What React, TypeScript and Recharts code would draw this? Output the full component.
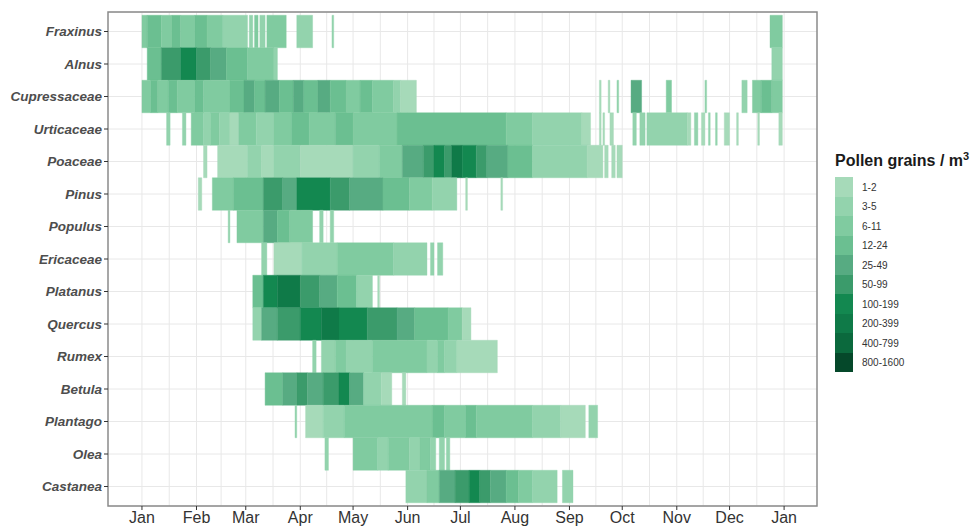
import { ComposedChart, XAxis, YAxis, ReferenceArea, CartesianGrid } from "recharts";

// taxa, top to bottom
const taxa = [
  "Fraxinus", "Alnus", "Cupressaceae", "Urticaceae", "Poaceae",
  "Pinus", "Populus", "Ericaceae", "Platanus", "Quercus",
  "Rumex", "Betula", "Plantago", "Olea", "Castanea",
];

// concentration classes (legend)
const levelLabels = ["1-2", "3-5", "6-11", "12-24", "25-49", "50-99", "100-199", "200-399", "400-799", "800-1600"];
const levelColors = ["#a6dab9", "#93d3ad", "#80cba0", "#6bbf91", "#57ab82", "#3b9b6b", "#138850", "#0f7a48", "#0b693d", "#05482a"];

// month ticks (day of year)
const monthDays = [0, 31, 59, 90, 120, 151, 181, 212, 243, 273, 304, 334, 365];
const monthLabels = ["Jan", "Feb", "Mar", "Apr", "May", "Jun", "Jul", "Aug", "Sep", "Oct", "Nov", "Dec", "Jan"];

// pollen periods per taxon: [start day, end day, class]
const fraxinus = [[0, 3, 2], [3, 11, 3], [11, 17, 2], [17, 22, 3], [22, 30, 2], [30, 37, 3], [37, 46, 2], [46, 60, 1], [61, 63, 1], [64, 66, 2], [67, 70, 1], [71, 82, 2], [88, 97, 1], [108, 109, 1], [357, 364, 2]];
const alnus = [[3, 11, 3], [11, 22, 5], [22, 31, 6], [31, 39, 5], [39, 48, 4], [48, 60, 3], [60, 75, 2], [75, 77, 1], [358, 364, 1]];
const cupressaceae = [[0, 5, 2], [5, 9, 3], [9, 15, 2], [15, 20, 3], [20, 30, 2], [30, 35, 3], [35, 50, 2], [50, 58, 3], [58, 64, 4], [64, 70, 3], [70, 78, 4], [78, 86, 3], [86, 92, 4], [92, 100, 3], [100, 107, 4], [107, 116, 3], [116, 124, 2], [124, 131, 3], [131, 143, 2], [143, 147, 1], [147, 156, 0], [260, 261, 0], [265, 266, 0], [270, 271, 1], [278, 284, 4], [298, 301, 2], [320, 321, 1], [341, 344, 1], [347, 352, 2], [352, 358, 3], [358, 364, 2]];
const urticaceae = [[14, 16, 1], [23, 25, 1], [28, 35, 2], [35, 39, 1], [39, 44, 2], [44, 50, 1], [50, 55, 0], [55, 65, 2], [65, 75, 1], [75, 85, 2], [85, 95, 3], [95, 110, 2], [110, 120, 3], [120, 145, 2], [145, 207, 3], [207, 222, 2], [222, 250, 1], [250, 255, 0], [260, 261, 0], [262, 263, 0], [266, 268, 0], [279, 281, 1], [283, 286, 1], [287, 310, 1], [310, 312, 0], [314, 316, 1], [318, 320, 0], [322, 323, 1], [326, 327, 1], [331, 334, 0], [338, 339, 0], [350, 351, 0], [362, 364, 0]];
const poaceae = [[35, 37, 0], [43, 60, 0], [60, 68, 1], [68, 75, 0], [75, 90, 1], [90, 120, 0], [120, 135, 1], [135, 148, 2], [148, 160, 4], [160, 166, 5], [166, 172, 6], [172, 176, 5], [176, 182, 7], [182, 190, 6], [190, 196, 5], [196, 208, 4], [208, 222, 3], [222, 253, 1], [253, 262, 0], [263, 265, 0], [267, 269, 0], [270, 273, 0]];
const pinus = [[32, 34, 0], [40, 52, 2], [52, 69, 3], [69, 80, 5], [80, 88, 4], [88, 107, 6], [107, 118, 5], [118, 137, 4], [137, 152, 3], [152, 165, 2], [165, 179, 1], [184, 185, 0], [204, 205, 0]];
const populus = [[49, 50, 1], [54, 69, 2], [69, 77, 4], [77, 84, 3], [84, 97, 2], [101, 103, 1], [107, 109, 1]];
const ericaceae = [[68, 71, 1], [75, 91, 0], [91, 111, 1], [111, 143, 2], [143, 162, 1], [164, 166, 1], [168, 171, 1]];
const platanus = [[63, 69, 3], [69, 77, 6], [77, 90, 7], [90, 101, 5], [101, 111, 4], [111, 122, 3], [122, 131, 1], [134, 135, 0]];
const quercus = [[63, 68, 1], [68, 77, 4], [77, 90, 5], [90, 102, 6], [102, 112, 7], [112, 128, 6], [128, 145, 5], [145, 155, 4], [155, 174, 3], [174, 182, 2], [182, 187, 0]];
const rumex = [[97, 99, 1], [102, 110, 1], [110, 116, 2], [116, 131, 1], [131, 162, 2], [162, 168, 1], [168, 172, 2], [172, 179, 1], [179, 202, 0]];
const betula = [[70, 80, 3], [80, 88, 4], [88, 94, 5], [94, 103, 4], [103, 112, 5], [112, 118, 6], [118, 126, 4], [126, 136, 1], [136, 142, 0], [148, 150, 0]];
const plantago = [[87, 88, 1], [93, 103, 0], [103, 115, 1], [115, 165, 2], [165, 172, 3], [172, 184, 2], [184, 190, 3], [190, 222, 2], [222, 238, 1], [238, 252, 0], [254, 259, 1]];
const olea = [[104, 106, 1], [120, 134, 2], [134, 140, 1], [140, 152, 2], [152, 158, 1], [158, 164, 2], [164, 167, 1], [169, 172, 1], [173, 175, 1]];
const castanea = [[150, 162, 1], [162, 169, 2], [169, 178, 4], [178, 186, 5], [186, 192, 6], [192, 198, 5], [198, 207, 4], [207, 214, 3], [214, 222, 2], [222, 236, 1], [239, 245, 1]];

const rows = [fraxinus, alnus, cupressaceae, urticaceae, poaceae, pinus, populus, ericaceae, platanus, quercus, rumex, betula, plantago, olea, castanea];

const X_DOMAIN = [-19.3, 383.7];
const Y_DOMAIN = [-0.6, 14.6];
const FONT = "'Liberation Sans', Arial, sans-serif";

const tiles = rows.flatMap((segs, row) =>
  segs.map(([start, end, level]) => ({ row, start, end, level }))
);

// grid: month starts plus halfway lines
const gridDays = monthDays.flatMap((d, i) => (i === 0 ? [d] : [(d + monthDays[i - 1]) / 2, d]));

// vertical grid positions from the x axis scale (falls back to the plot offset)
const verticalGrid = ({ xAxis, offset }: any) => {
  const s = xAxis && xAxis.scale;
  if (typeof s === "function") return gridDays.map((d) => s(d));
  if (s && typeof s.map === "function") return gridDays.map((d) => s.map(d));
  const span = X_DOMAIN[1] - X_DOMAIN[0];
  return gridDays.map((d) => offset.left + ((d - X_DOMAIN[0]) / span) * offset.width);
};

const PollenLegend = () => (
  <div style={{ position: "absolute", left: 835, top: 147, fontFamily: FONT }}>
    <div style={{ fontSize: 16, lineHeight: "18px", fontWeight: 700, color: "#1a1a1a", marginBottom: 7, whiteSpace: "nowrap" }}>
      Pollen grains / m<sup style={{ fontSize: 11 }}>3</sup>
    </div>
    {levelLabels.map((label, i) => (
      <div key={label} style={{ display: "flex", alignItems: "center", height: 19.5 }}>
        <span style={{ width: 18, height: 19.5, background: levelColors[i], display: "inline-block" }} />
        <span style={{ fontSize: 10, color: "#333", marginLeft: 9 }}>{label}</span>
      </div>
    ))}
  </div>
);

export default function App() {
  return (
    <div style={{ position: "absolute", left: 0, top: 0, width: 978, height: 529, background: "#fff" }}>
      <ComposedChart width={978} height={529} margin={{ top: 12, right: 161, bottom: 0, left: 0 }}>
        <CartesianGrid stroke="#e8e8e8" strokeWidth={1} verticalCoordinatesGenerator={verticalGrid} />
        <XAxis
          type="number"
          dataKey="x"
          domain={X_DOMAIN}
          allowDataOverflow
          ticks={monthDays}
          interval={0}
          tickFormatter={(v) => monthLabels[monthDays.indexOf(v)]}
          height={23}
          axisLine={false}
          tickSize={4}
          tickLine={{ stroke: "#333" }}
          tick={{ fontSize: 16, fill: "#333", fontFamily: FONT }}
        />
        <YAxis
          type="number"
          dataKey="y"
          domain={Y_DOMAIN}
          allowDataOverflow
          reversed
          ticks={taxa.map((_, i) => i)}
          interval={0}
          tickFormatter={(v) => taxa[v]}
          width={108}
          axisLine={false}
          tickSize={4}
          tickLine={{ stroke: "#333" }}
          tick={{ fontSize: 13.5, fill: "#4d4d4d", fontStyle: "italic", fontWeight: 700, fontFamily: FONT }}
        />
        {tiles.map((t, k) => (
          <ReferenceArea
            key={k}
            x1={t.start}
            x2={t.end}
            y1={t.row - 0.5}
            y2={t.row + 0.5}
            fill={levelColors[t.level]}
            fillOpacity={1}
            stroke={levelColors[t.level]}
            strokeWidth={0.4}
            ifOverflow="visible"
          />
        ))}
        <ReferenceArea
          x1={X_DOMAIN[0]}
          x2={X_DOMAIN[1]}
          y1={Y_DOMAIN[0]}
          y2={Y_DOMAIN[1]}
          fill="none"
          stroke="#8a8a8a"
          strokeWidth={1.5}
          ifOverflow="visible"
        />
      </ComposedChart>
      <PollenLegend />
    </div>
  );
}
